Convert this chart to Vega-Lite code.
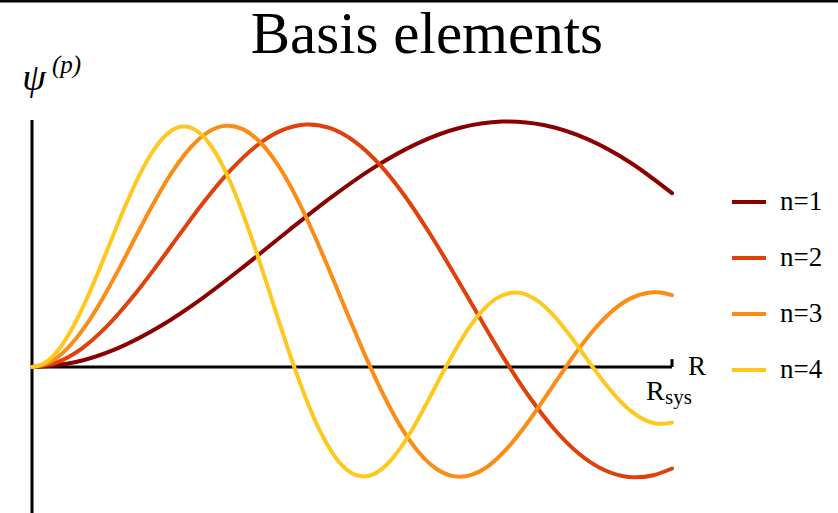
{
  "$schema": "https://vega.github.io/schema/vega-lite/v6.json",
  "width": 640,
  "height": 393,
  "autosize": {"type": "none"},
  "padding": {"left": 32, "top": 120, "right": 166, "bottom": 0},
  "background": "white",
  "config": {
    "view": {"stroke": null},
    "font": "Liberation Serif"
  },
  "data": {"values": [{}]},
  "datasets": {
    "basis": [
      {"n": "n=1", "r": 0, "psi": 0},
      {"n": "n=1", "r": 0.0668, "psi": 0.0194},
      {"n": "n=1", "r": 0.1335, "psi": 0.0762},
      {"n": "n=1", "r": 0.2003, "psi": 0.1661},
      {"n": "n=1", "r": 0.2671, "psi": 0.282},
      {"n": "n=1", "r": 0.3338, "psi": 0.4151},
      {"n": "n=1", "r": 0.4006, "psi": 0.5551},
      {"n": "n=1", "r": 0.4674, "psi": 0.6911},
      {"n": "n=1", "r": 0.5341, "psi": 0.8123},
      {"n": "n=1", "r": 0.6009, "psi": 0.9091},
      {"n": "n=1", "r": 0.6676, "psi": 0.9734},
      {"n": "n=1", "r": 0.7344, "psi": 0.9996},
      {"n": "n=1", "r": 0.7438, "psi": 1.0},
      {"n": "n=1", "r": 0.8012, "psi": 0.9845},
      {"n": "n=1", "r": 0.8679, "psi": 0.9281},
      {"n": "n=1", "r": 0.9347, "psi": 0.8332},
      {"n": "n=1", "r": 1.0, "psi": 0.7081},

      {"n": "n=2", "r": 0, "psi": 0},
      {"n": "n=2", "r": 0.0388, "psi": 0.0192},
      {"n": "n=2", "r": 0.0777, "psi": 0.0753},
      {"n": "n=2", "r": 0.1165, "psi": 0.1641},
      {"n": "n=2", "r": 0.1553, "psi": 0.2786},
      {"n": "n=2", "r": 0.1942, "psi": 0.4101},
      {"n": "n=2", "r": 0.233, "psi": 0.5484},
      {"n": "n=2", "r": 0.2718, "psi": 0.6828},
      {"n": "n=2", "r": 0.3107, "psi": 0.8025},
      {"n": "n=2", "r": 0.3495, "psi": 0.8982},
      {"n": "n=2", "r": 0.3883, "psi": 0.9617},
      {"n": "n=2", "r": 0.4272, "psi": 0.9876},
      {"n": "n=2", "r": 0.4326, "psi": 0.988},
      {"n": "n=2", "r": 0.466, "psi": 0.9727},
      {"n": "n=2", "r": 0.5048, "psi": 0.917},
      {"n": "n=2", "r": 0.5437, "psi": 0.8231},
      {"n": "n=2", "r": 0.5825, "psi": 0.6965},
      {"n": "n=2", "r": 0.6213, "psi": 0.5446},
      {"n": "n=2", "r": 0.6602, "psi": 0.3768},
      {"n": "n=2", "r": 0.699, "psi": 0.2032},
      {"n": "n=2", "r": 0.7378, "psi": 0.0342},
      {"n": "n=2", "r": 0.7767, "psi": -0.1202},
      {"n": "n=2", "r": 0.8155, "psi": -0.2513},
      {"n": "n=2", "r": 0.8543, "psi": -0.3523},
      {"n": "n=2", "r": 0.8932, "psi": -0.4185},
      {"n": "n=2", "r": 0.932, "psi": -0.4478},
      {"n": "n=2", "r": 0.9437, "psi": -0.4495},
      {"n": "n=2", "r": 0.9709, "psi": -0.4408},
      {"n": "n=2", "r": 1.0, "psi": -0.4134},

      {"n": "n=3", "r": 0, "psi": 0},
      {"n": "n=3", "r": 0.0275, "psi": 0.0191},
      {"n": "n=3", "r": 0.055, "psi": 0.0749},
      {"n": "n=3", "r": 0.0825, "psi": 0.1632},
      {"n": "n=3", "r": 0.1101, "psi": 0.2772},
      {"n": "n=3", "r": 0.1376, "psi": 0.408},
      {"n": "n=3", "r": 0.1651, "psi": 0.5456},
      {"n": "n=3", "r": 0.1926, "psi": 0.6793},
      {"n": "n=3", "r": 0.2201, "psi": 0.7985},
      {"n": "n=3", "r": 0.2476, "psi": 0.8936},
      {"n": "n=3", "r": 0.2751, "psi": 0.9569},
      {"n": "n=3", "r": 0.3026, "psi": 0.9826},
      {"n": "n=3", "r": 0.3065, "psi": 0.983},
      {"n": "n=3", "r": 0.3302, "psi": 0.9678},
      {"n": "n=3", "r": 0.3577, "psi": 0.9124},
      {"n": "n=3", "r": 0.3852, "psi": 0.819},
      {"n": "n=3", "r": 0.4127, "psi": 0.693},
      {"n": "n=3", "r": 0.4402, "psi": 0.5419},
      {"n": "n=3", "r": 0.4677, "psi": 0.3749},
      {"n": "n=3", "r": 0.4952, "psi": 0.2021},
      {"n": "n=3", "r": 0.5227, "psi": 0.034},
      {"n": "n=3", "r": 0.5503, "psi": -0.1196},
      {"n": "n=3", "r": 0.5778, "psi": -0.2501},
      {"n": "n=3", "r": 0.6053, "psi": -0.3505},
      {"n": "n=3", "r": 0.6328, "psi": -0.4164},
      {"n": "n=3", "r": 0.6603, "psi": -0.4456},
      {"n": "n=3", "r": 0.6685, "psi": -0.4472},
      {"n": "n=3", "r": 0.6878, "psi": -0.4386},
      {"n": "n=3", "r": 0.7085, "psi": -0.4113},
      {"n": "n=3", "r": 0.7153, "psi": -0.3985},
      {"n": "n=3", "r": 0.7428, "psi": -0.3305},
      {"n": "n=3", "r": 0.7703, "psi": -0.2414},
      {"n": "n=3", "r": 0.7979, "psi": -0.1394},
      {"n": "n=3", "r": 0.8254, "psi": -0.0332},
      {"n": "n=3", "r": 0.8529, "psi": 0.0689},
      {"n": "n=3", "r": 0.8804, "psi": 0.159},
      {"n": "n=3", "r": 0.9079, "psi": 0.2307},
      {"n": "n=3", "r": 0.9354, "psi": 0.2795},
      {"n": "n=3", "r": 0.9629, "psi": 0.3026},
      {"n": "n=3", "r": 0.9734, "psi": 0.3045},
      {"n": "n=3", "r": 0.9905, "psi": 0.2995},
      {"n": "n=3", "r": 1.0, "psi": 0.2926},

      {"n": "n=4", "r": 0, "psi": 0},
      {"n": "n=4", "r": 0.0213, "psi": 0.019},
      {"n": "n=4", "r": 0.0427, "psi": 0.0747},
      {"n": "n=4", "r": 0.064, "psi": 0.1627},
      {"n": "n=4", "r": 0.0853, "psi": 0.2764},
      {"n": "n=4", "r": 0.1066, "psi": 0.4068},
      {"n": "n=4", "r": 0.128, "psi": 0.544},
      {"n": "n=4", "r": 0.1493, "psi": 0.6772},
      {"n": "n=4", "r": 0.1706, "psi": 0.796},
      {"n": "n=4", "r": 0.192, "psi": 0.8909},
      {"n": "n=4", "r": 0.2133, "psi": 0.9539},
      {"n": "n=4", "r": 0.2346, "psi": 0.9796},
      {"n": "n=4", "r": 0.2376, "psi": 0.98},
      {"n": "n=4", "r": 0.2559, "psi": 0.9648},
      {"n": "n=4", "r": 0.2773, "psi": 0.9096},
      {"n": "n=4", "r": 0.2986, "psi": 0.8165},
      {"n": "n=4", "r": 0.3199, "psi": 0.6909},
      {"n": "n=4", "r": 0.3412, "psi": 0.5402},
      {"n": "n=4", "r": 0.3626, "psi": 0.3737},
      {"n": "n=4", "r": 0.3839, "psi": 0.2015},
      {"n": "n=4", "r": 0.4052, "psi": 0.0339},
      {"n": "n=4", "r": 0.4266, "psi": -0.1192},
      {"n": "n=4", "r": 0.4479, "psi": -0.2493},
      {"n": "n=4", "r": 0.4692, "psi": -0.3494},
      {"n": "n=4", "r": 0.4905, "psi": -0.4151},
      {"n": "n=4", "r": 0.5119, "psi": -0.4442},
      {"n": "n=4", "r": 0.5183, "psi": -0.4458},
      {"n": "n=4", "r": 0.5332, "psi": -0.4372},
      {"n": "n=4", "r": 0.5545, "psi": -0.3973},
      {"n": "n=4", "r": 0.5759, "psi": -0.3295},
      {"n": "n=4", "r": 0.5972, "psi": -0.2406},
      {"n": "n=4", "r": 0.6185, "psi": -0.139},
      {"n": "n=4", "r": 0.6398, "psi": -0.0331},
      {"n": "n=4", "r": 0.6612, "psi": 0.0687},
      {"n": "n=4", "r": 0.6825, "psi": 0.1585},
      {"n": "n=4", "r": 0.7038, "psi": 0.23},
      {"n": "n=4", "r": 0.7251, "psi": 0.2787},
      {"n": "n=4", "r": 0.7465, "psi": 0.3017},
      {"n": "n=4", "r": 0.7546, "psi": 0.3035},
      {"n": "n=4", "r": 0.7678, "psi": 0.2986},
      {"n": "n=4", "r": 0.7891, "psi": 0.2711},
      {"n": "n=4", "r": 0.8105, "psi": 0.2222},
      {"n": "n=4", "r": 0.8318, "psi": 0.1578},
      {"n": "n=4", "r": 0.8531, "psi": 0.0837},
      {"n": "n=4", "r": 0.8744, "psi": 0.0059},
      {"n": "n=4", "r": 0.8958, "psi": -0.0687},
      {"n": "n=4", "r": 0.9171, "psi": -0.134},
      {"n": "n=4", "r": 0.9384, "psi": -0.1851},
      {"n": "n=4", "r": 0.9597, "psi": -0.2183},
      {"n": "n=4", "r": 0.9811, "psi": -0.2316},
      {"n": "n=4", "r": 1.0, "psi": -0.2265}
    ]
  },
  "layer": [
    {
      "description": "frame line along the top edge",
      "mark": {"type": "rule", "color": "black", "strokeWidth": 3, "clip": false},
      "encoding": {
        "x": {"datum": -0.05, "type": "quantitative", "scale": {"domain": [0, 1], "nice": false, "zero": false}, "axis": null},
        "x2": {"datum": 1.26},
        "y": {"datum": 1.4908, "type": "quantitative", "scale": {"domain": [-0.5947, 1.0061], "nice": false, "zero": false}, "axis": null}
      }
    },
    {
      "description": "vertical psi axis",
      "mark": {"type": "rule", "color": "black", "strokeWidth": 3},
      "encoding": {
        "x": {"datum": 0, "type": "quantitative"}
      }
    },
    {
      "description": "horizontal R axis",
      "mark": {"type": "rule", "color": "black", "strokeWidth": 3},
      "encoding": {
        "x": {"datum": 0, "type": "quantitative"},
        "x2": {"datum": 1},
        "y": {"datum": 0, "type": "quantitative"}
      }
    },
    {
      "description": "tick marking R_sys at the end of the axis",
      "mark": {"type": "rule", "color": "black", "strokeWidth": 3},
      "encoding": {
        "x": {"datum": 1, "type": "quantitative"},
        "y": {"datum": 0, "type": "quantitative"},
        "y2": {"datum": 0.032}
      }
    },
    {
      "data": {"name": "basis"},
      "mark": {"type": "line", "strokeWidth": 4, "interpolate": "monotone", "strokeCap": "round"},
      "encoding": {
        "x": {"field": "r", "type": "quantitative"},
        "y": {"field": "psi", "type": "quantitative"},
        "color": {
          "field": "n",
          "type": "nominal",
          "scale": {"domain": ["n=1", "n=2", "n=3", "n=4"], "range": ["#8a0000", "#e0400a", "#fb8c16", "#ffc81f"]},
          "legend": {
            "title": null,
            "orient": "none",
            "legendX": 698,
            "legendY": 63,
            "padding": 0,
            "symbolType": "stroke",
            "symbolSize": 1156,
            "symbolStrokeWidth": 4,
            "labelFont": "Liberation Serif",
            "labelFontSize": 27,
            "labelColor": "black",
            "labelOffset": 12,
            "rowPadding": 24
          }
        }
      }
    },
    {
      "description": "chart title",
      "mark": {"type": "text", "text": "Basis elements", "font": "Liberation Serif", "fontSize": 59, "align": "center", "baseline": "alphabetic"},
      "encoding": {"x": {"datum": 0.617, "type": "quantitative"}, "y": {"datum": 1.279, "type": "quantitative"}}
    },
    {
      "description": "axis label R",
      "mark": {"type": "text", "text": "R", "font": "Liberation Serif", "fontSize": 27, "align": "left", "baseline": "alphabetic", "dx": 16, "dy": 8},
      "encoding": {"x": {"datum": 1, "type": "quantitative"}, "y": {"datum": 0, "type": "quantitative"}}
    },
    {
      "description": "tick label R_sys",
      "mark": {"type": "text", "text": "R", "font": "Liberation Serif", "fontSize": 28, "align": "left", "baseline": "alphabetic", "dx": -26, "dy": 33},
      "encoding": {"x": {"datum": 1, "type": "quantitative"}, "y": {"datum": 0, "type": "quantitative"}}
    },
    {
      "mark": {"type": "text", "text": "sys", "font": "Liberation Serif", "fontSize": 21, "align": "left", "baseline": "alphabetic", "dx": -7, "dy": 37},
      "encoding": {"x": {"datum": 1, "type": "quantitative"}, "y": {"datum": 0, "type": "quantitative"}}
    },
    {
      "description": "vertical axis label psi^(p)",
      "mark": {"type": "text", "text": "ψ", "font": "Liberation Serif", "fontStyle": "italic", "fontSize": 38, "align": "center", "baseline": "alphabetic", "dx": 2, "dy": 2},
      "encoding": {"x": {"datum": 0, "type": "quantitative"}, "y": {"datum": 1.1365, "type": "quantitative"}}
    },
    {
      "mark": {"type": "text", "text": "(p)", "font": "Liberation Serif", "fontStyle": "italic", "fontSize": 25, "align": "left", "baseline": "alphabetic", "dx": 20, "dy": -15},
      "encoding": {"x": {"datum": 0, "type": "quantitative"}, "y": {"datum": 1.1365, "type": "quantitative"}}
    }
  ]
}
